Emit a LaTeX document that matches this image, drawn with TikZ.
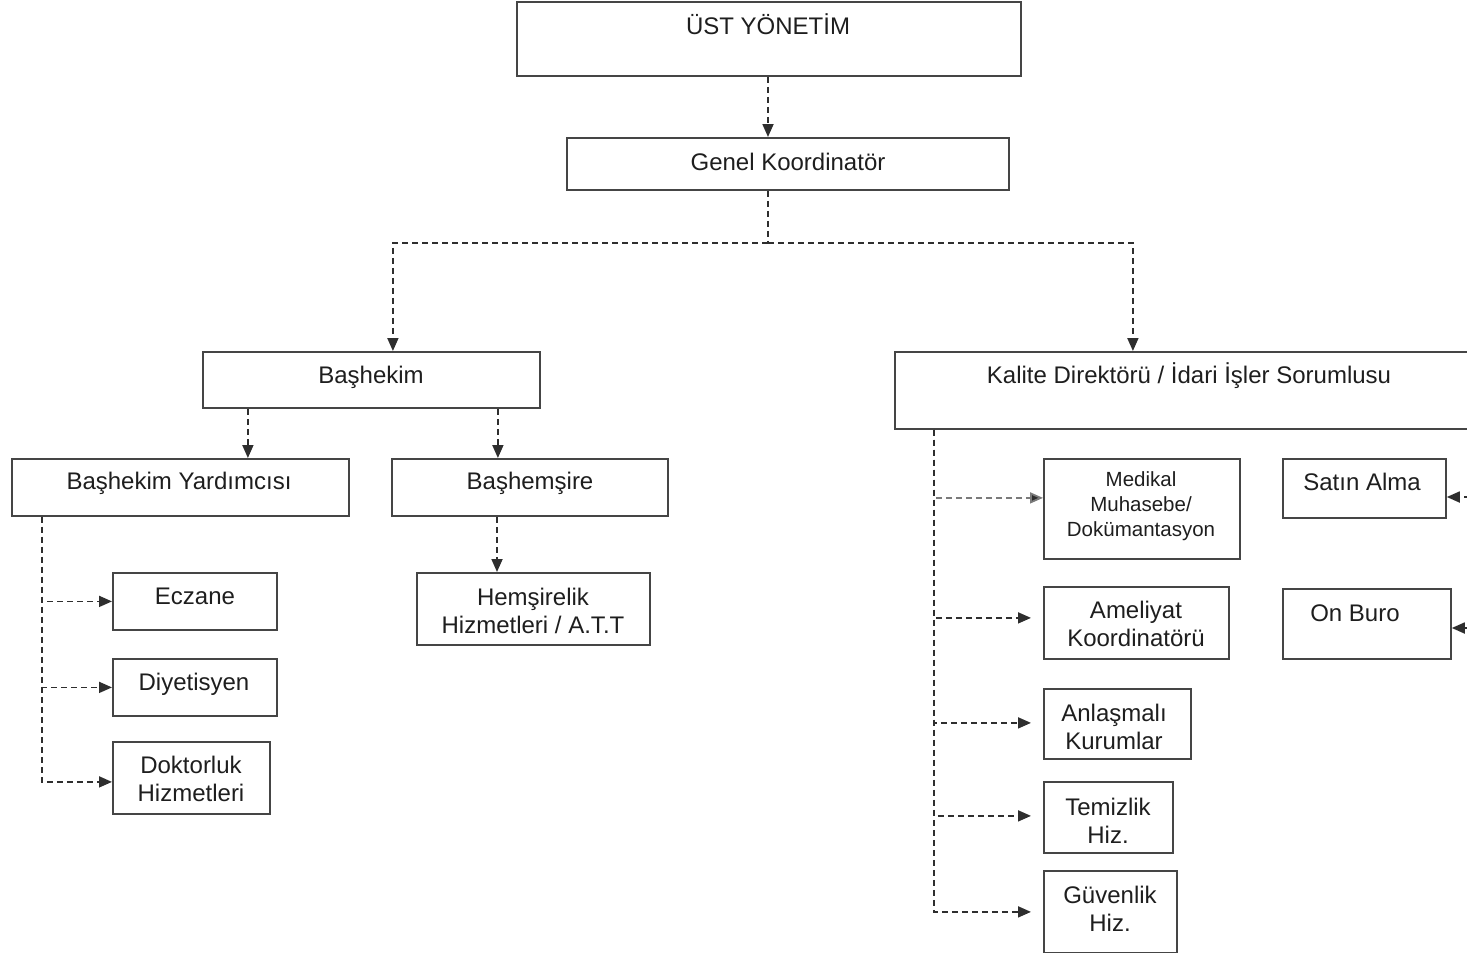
\documentclass[tikz,border=0pt]{standalone}
\usepackage{fontspec}
\setmainfont{Liberation Sans}
\usetikzlibrary{arrows.meta}
\definecolor{boxgray}{HTML}{454545}
\definecolor{txt}{HTML}{1E1E1E}
\definecolor{lnk}{HTML}{2E2E2E}
\definecolor{lnklight}{HTML}{7A7A7A}
\tikzset{
  box/.style={draw=boxgray, line width=1.8pt, anchor=north west, inner sep=0pt},
  lbl/.style={text=txt, font=\fontsize{24}{28}\selectfont, align=center, inner sep=0pt},
  slbl/.style={text=txt, font=\fontsize{20.5}{25}\selectfont, align=center, inner sep=0pt},
  conn/.style={draw=lnk, line width=1.8pt, dash pattern=on 6pt off 4pt, -{Triangle[length=13pt,width=11pt,fill=lnk]}},
  plain/.style={draw=lnk, line width=1.8pt, dash pattern=on 6pt off 4pt},
}
\newcommand\mybox[5]{\node[box, minimum width={(#4-#2)*1pt}, minimum height={(#5-#3)*1pt}] (#1) at (#2,#3) {};}
\begin{document}
\begin{tikzpicture}[x=1pt,y=-1pt]
\useasboundingbox (0,0) rectangle (1467,953);
\clip (0,0) rectangle (1467,953);
% boxes
\mybox{ust}{516}{1}{1020}{75}
\mybox{gk}{566}{137}{1008}{189}
\mybox{bas}{202}{351}{539}{407}
\mybox{kal}{894}{351}{1484}{428}
\mybox{by}{11}{458}{348}{515}
\mybox{bhs}{391}{458}{667}{515}
\mybox{ecz}{112}{572}{276}{629}
\mybox{diy}{112}{658}{276}{715}
\mybox{dok}{112}{741}{269}{813}
\mybox{hem}{416}{572}{649}{644}
\mybox{med}{1043}{458}{1239}{558}
\mybox{ame}{1043}{586}{1228}{658}
\mybox{anl}{1043}{688}{1190}{758}
\mybox{tem}{1043}{781}{1172}{852}
\mybox{guv}{1043}{870}{1176}{952}
\mybox{sat}{1282}{458}{1445}{517}
\mybox{onb}{1282}{588}{1450}{658}
% texts
\node[lbl] (tust) at (768,24) {ÜST YÖNETİM};
\node[lbl] (tgk) at (788,162) {Genel Koordinatör};
\node[lbl] (tbas) at (371,377) {Başhekim};
\node[lbl] (tkal) at (1189,376) {Kalite Direktörü / İdari İşler Sorumlusu};
\node[lbl] (tby) at (179,483) {Başhekim Yardımcısı};
\node[lbl] (tbhs) at (530,483) {Başhemşire};
\node[lbl] (tecz) at (195,596) {Eczane};
\node[lbl] (tdiy) at (194,684) {Diyetisyen};
\node[lbl] (tdok) at (191,779) {Doktorluk\\Hizmetleri};
\node[lbl] (them) at (533,611) {Hemşirelik\\Hizmetleri / A.T.T};
\node[slbl] (tmed) at (1141,506) {Medikal\\Muhasebe/\\Dokümantasyon};
\node[lbl] (tame) at (1136,624) {Ameliyat\\Koordinatörü};
\node[lbl] (tanl) at (1114,727) {Anlaşmalı\\Kurumlar};
\node[lbl] (ttem) at (1108,821) {Temizlik\\Hiz.};
\node[lbl] (tguv) at (1110,909) {Güvenlik\\Hiz.};
\node[lbl] (tsat) at (1362,482) {Satın Alma};
\node[lbl] (tonb) at (1355,613) {On Buro};
% connectors
\draw[conn] (ust.south -| 768,0) -- (gk.north -| 768,0);
\coordinate (j) at (768,243);
\draw[plain] (gk.south -| j) -- (j);
\draw[conn] (j) -| ([xshift=21.5pt]bas.north);
\draw[conn] (j) -| ([xshift=-57pt]kal.north);
\draw[conn] ([xshift=-123.5pt]bas.south) -- ([xshift=-123.5pt]bas.south |- by.north);
\draw[conn] ([xshift=126.5pt]bas.south) -- ([xshift=126.5pt]bas.south |- bhs.north);
\draw[conn] ([xshift=106pt]bhs.south west) -- ([xshift=106pt]bhs.south west |- hem.north);
% Başhekim Yardımcısı branch
\coordinate (byt) at ([xshift=31pt]by.south west);
\draw[conn] (byt) |- (ecz.west);
\draw[conn] (byt) |- (diy.west);
\draw[conn] (byt) |- ([yshift=-4pt]dok.west);
% Kalite branch
\coordinate (kt) at ([xshift=40pt]kal.south west);
\draw[conn, draw=lnklight] (kt) |- ([yshift=11pt]med.west);
\draw[conn, shorten >=12pt] (kt) |- ([yshift=5pt]ame.west);
\draw[conn, shorten >=12pt] (kt) |- ([yshift=1pt]anl.west);
\draw[conn, shorten >=12pt] (kt) |- ([yshift=1.5pt]tem.west);
\draw[conn, shorten >=12pt] (kt) |- (guv.west);
% right side incoming arrows
\coordinate (sr) at (1490,497);
\coordinate (or) at (1490,628);
\draw[conn] (sr) -- (sr -| sat.east);
\draw[conn] (or) -- (or -| onb.east);
\end{tikzpicture}
\end{document}
